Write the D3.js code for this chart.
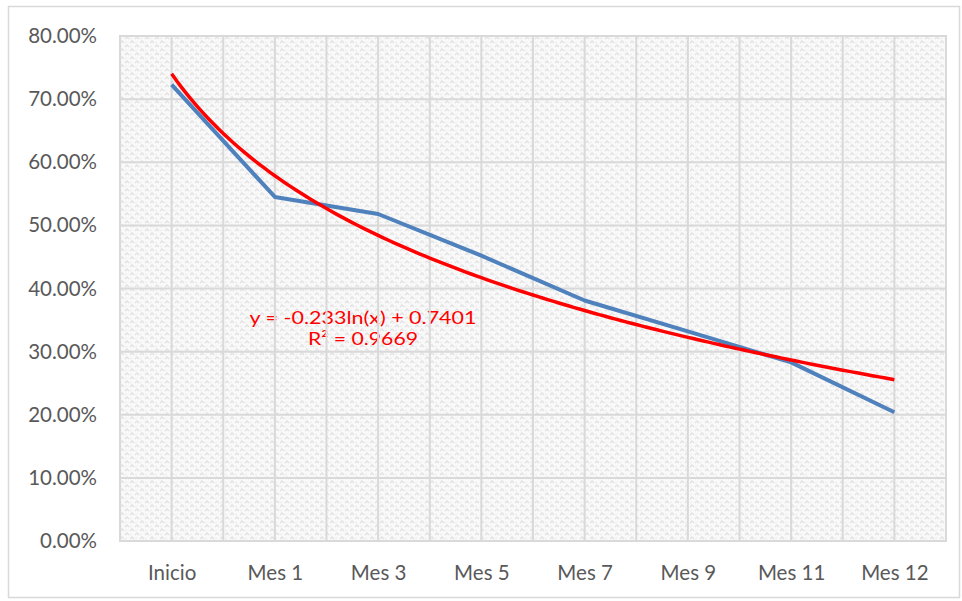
<!DOCTYPE html>
<html><head><meta charset="utf-8">
<script src="https://cdn.jsdelivr.net/npm/d3@7/dist/d3.min.js"></script>
<style>html,body{margin:0;padding:0;background:#fff;}svg{display:block;}</style>
</head><body><svg id="c" width="962" height="601"></svg>
<script>
const categories = ["Inicio","Mes 1","Mes 3","Mes 5","Mes 7","Mes 9","Mes 11","Mes 12"];
const seriesValues = [0.723, 0.545, 0.518, 0.452, 0.381, 0.332, 0.283, 0.204];
const yTicks = [0,0.1,0.2,0.3,0.4,0.5,0.6,0.7,0.8];
const trendCoef = [-0.233, 0.7401]; // y = a ln(x) + b
const trendLabels = ["y = -0.233ln(x) + 0.7401", "R\u00B2 = 0.9669"];

const svg = d3.select("#c");
const L=120, R=946, T=36, B=541;
const font = "Lato, 'Open Sans', sans-serif";

svg.append("rect").attr("x",8.5).attr("y",6.5).attr("width",951).attr("height",591)
  .attr("fill","#fff").attr("stroke","#d9d9d9").attr("stroke-width",1.5);

const defs = svg.append("defs");
const pat = defs.append("pattern").attr("id","weave").attr("patternUnits","userSpaceOnUse")
  .attr("width",10).attr("height",8);
pat.append("rect").attr("width",10).attr("height",8).attr("fill","#f9f9f9");
pat.append("path").attr("d","M0,3 L2,1 L4,3 M5,7 L7,5 L9,7").attr("fill","none").attr("stroke","#e2e2e2").attr("stroke-width",1.3);
pat.append("path").attr("d","M5,3 L7,2 M0,7 L2,6").attr("fill","none").attr("stroke","#ebebeb").attr("stroke-width",1);

const x = d3.scalePoint().domain(categories).range([L,R]).padding(0.5);
const y = d3.scaleLinear().domain([0,0.8]).range([B,T]);
const step = x.step();

svg.append("rect").attr("x",L).attr("y",T).attr("width",R-L).attr("height",B-T).attr("fill","url(#weave)");

const labY = [324, 345];
trendLabels.forEach((t,i)=>{
  svg.append("text").attr("fill","#ff0000").attr("font-family",font).attr("font-size",17.5)
    .attr("text-anchor","middle").attr("x",363).attr("y",labY[i])
    .attr("textLength", i===0 ? 227 : 110).attr("lengthAdjust","spacingAndGlyphs").text(t);
});

const g = svg.append("g").attr("stroke","#d9d9d9").attr("stroke-width",2);
yTicks.forEach(t=>{ g.append("line").attr("x1",L).attr("x2",R).attr("y1",y(t)).attr("y2",y(t)); });
const vx = [];
for(let i=0;i<=categories.length*2;i++) vx.push(L + i*step/2);
vx.forEach(v=>{ g.append("line").attr("x1",v).attr("x2",v).attr("y1",T).attr("y2",B); });
g.append("rect").attr("x",L).attr("y",T).attr("width",R-L).attr("height",B-T).attr("fill","none");

const yAxis = d3.axisLeft(y).tickValues(yTicks).tickFormat(d=>(d*100).toFixed(2)+"%").tickSize(0).tickPadding(23);
const ya = svg.append("g").attr("transform",`translate(${L},0)`).call(yAxis);
ya.select(".domain").remove();
ya.selectAll("text").attr("font-family",font).attr("font-size",20.5).attr("fill","#595959");

const xAxis = d3.axisBottom(x).tickSize(0).tickPadding(24);
const xa = svg.append("g").attr("transform",`translate(0,${B})`).call(xAxis);
xa.select(".domain").remove();
xa.selectAll("text").attr("font-family",font).attr("font-size",20.5).attr("fill","#595959");

const line = d3.line().x((d,i)=>x(categories[i])).y(d=>y(d));
svg.append("path").datum(seriesValues).attr("d",line).attr("fill","none")
  .attr("stroke","#4f81bd").attr("stroke-width",4).attr("stroke-linejoin","round");

const tx = d3.scaleLinear().domain([1,categories.length]).range([x(categories[0]), x(categories[categories.length-1])]);
const tpts = d3.range(1, categories.length+0.001, 0.05).map(v=>[tx(v), y(trendCoef[0]*Math.log(v)+trendCoef[1])]);
svg.append("path").attr("d",d3.line()(tpts)).attr("fill","none").attr("stroke","#ff0000").attr("stroke-width",3.5);
</script></body></html>
